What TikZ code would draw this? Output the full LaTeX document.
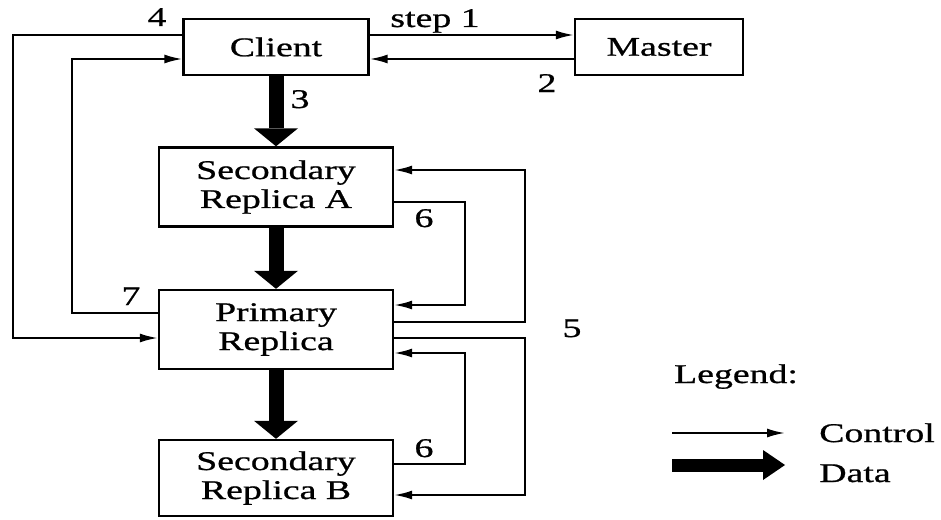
\documentclass[tikz,border=0pt]{standalone}
\usepackage{fontspec}
\setmainfont{Liberation Serif}[FakeStretch=1.4, FakeBold=0.8]
\usepackage{tikz}
\usetikzlibrary{arrows.meta, positioning}
\tikzstyle{box} = [rectangle, draw=black, line width=1.2pt, minimum width=92.5pt, minimum height=28pt, text centered, align=center, font=\fontsize{13.5}{14.5}\selectfont]
\tikzstyle{replica} = [box, minimum width=117pt, minimum height=39.5pt]
\tikzstyle{line} = [draw, line width=1pt, -{Latex[length=9pt, width=4.5pt]}]
\tikzstyle{data} = [draw, line width=7.5pt, -{Triangle[length=9pt, width=22pt, line width=0pt]}]
\tikzstyle{lbl} = [font=\fontsize{13.5}{14.5}\selectfont, inner sep=0pt, anchor=base]

\begin{document}
\begin{tikzpicture}[x=0.5pt, y=-0.5pt, node distance=70pt]
    \useasboundingbox (0,0) rectangle (941,519);
    % Nodes
    \node [box] (client) at (276,47) {Client};
    \node [box, right of=client, node distance=191.5pt, minimum width=84pt] (master) {Master};
    \node [replica, below of=client] (seca) {Secondary\\Replica A};
    \node [replica, below of=seca, node distance=71.25pt] (primary) {Primary\\Replica};
    \node [replica, below of=primary, node distance=74.25pt, minimum height=38pt] (secb) {Secondary\\Replica B};

    % Bends
    \coordinate (outerleft) at (13,200);
    \coordinate (innerleft) at (72,200);
    \coordinate (innerrightA) at (465,250);
    \coordinate (outerrightA) at (525,250);
    \coordinate (innerrightB) at (465,400);
    \coordinate (outerrightB) at (525,420);

    % Edges
    \path [line] ([yshift=6pt]client.east) -- ([yshift=6pt]master.west);
    \path [line] ([yshift=-6pt]master.west) -- ([yshift=-6pt]client.east);
    \path [data] (client) -- (seca);
    \path [data] (seca) -- (primary);
    \path [data] (primary) -- (secb);
    \path [line] ([yshift=6pt]client.west) -| (outerleft) |- ([yshift=-4.25pt]primary.west);
    \path [line] ([yshift=8.25pt]primary.west) -| (innerleft) |- ([yshift=-6pt]client.west);
    \path [line] ([yshift=-7.5pt]seca.east) -| (innerrightA) |- ([yshift=12.25pt]primary.east);
    \path [line] ([yshift=3.75pt]primary.east) -| (outerrightA) |- ([yshift=8.5pt]seca.east);
    \path [line] ([yshift=-4.25pt]primary.east) -| (outerrightB) |- ([yshift=-8.5pt]secb.east);
    \path [line] ([yshift=7pt]secb.east) -| (innerrightB) |- ([yshift=-11.75pt]primary.east);

    % Labels
    \node [lbl] (stepone) at (435,27) {step 1};
    \node [lbl] (steptwo) at (547,92) {2};
    \node [lbl] (stepthree) at (300,108) {3};
    \node [lbl] (stepfour) at (157,26) {4};
    \node [lbl] (stepfive) at (572,337) {5};
    \node [lbl] (stepsixA) at (424,227) {6};
    \node [lbl] (stepsixB) at (424,457) {6};
    \node [lbl] (stepseven) at (131,305) {7};

    % Legend
    \node [lbl] (legend) at (736,383) {Legend:};
    \coordinate (ctrlstart) at (672,433);
    \coordinate (ctrlend) at (785,433);
    \coordinate (datastart) at (672,465);
    \coordinate (dataend) at (785,465);
    \path [line] (ctrlstart) -- (ctrlend);
    \path [data, line width=6.5pt, -{Triangle[length=11pt, width=15pt, line width=0pt]}] (datastart) -- (dataend);
    \node [lbl] (ctrltext) at (877,442) {Control};
    \node [lbl] (datatext) at (855,482) {Data};
\end{tikzpicture}
\end{document}
